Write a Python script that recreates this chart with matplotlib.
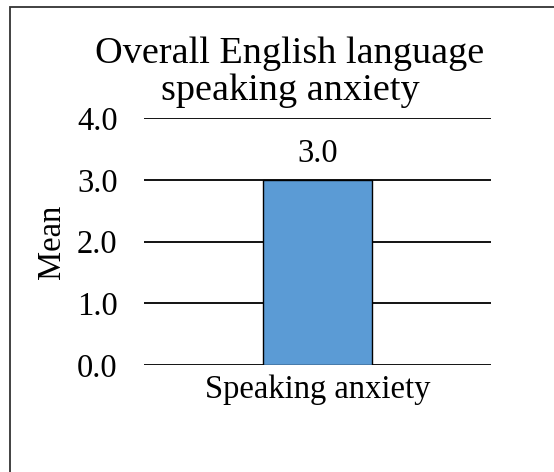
import matplotlib.pyplot as plt
from matplotlib.patches import Rectangle

categories = ["Speaking anxiety"]
means = [3.0]
yticks = [0.0, 1.0, 2.0, 3.0, 4.0]
title = "Overall English language\nspeaking anxiety"

plt.rcParams['font.family'] = ['Liberation Serif', 'DejaVu Serif']

fig = plt.figure(figsize=(5.54, 4.72), dpi=100)
ax = fig.add_axes([144 / 554, 1 - 365 / 472, (491 - 144) / 554, (365 - 118) / 472])

# chart area frame (cropped on the right and bottom)
fig.patches.append(Rectangle((10 / 554, -0.1), 1.2, 1 - 7 / 472 + 0.1,
                             transform=fig.transFigure, fill=False,
                             edgecolor='#333333', linewidth=1.3))

bars = ax.bar(categories, means, width=0.314, color='#5b9bd5',
              edgecolor='black', linewidth=1.0, zorder=3)
for b, v in zip(bars, means):
    ax.annotate(f"{v:.1f}", (b.get_x() + b.get_width() / 2, v),
                xytext=(0, 8), textcoords='offset points',
                ha='center', va='bottom', fontsize=23.5)

ax.set_xlim(-0.5, 0.5)
ax.set_ylim(0, 4)
ax.set_yticks(yticks)
ax.set_yticklabels([f"{t:.1f}" for t in yticks])
ax.yaxis.grid(True, color='black', linewidth=1.3, zorder=0)
ax.set_axisbelow(True)
for s in ax.spines.values():
    s.set_visible(False)
ax.tick_params(axis='both', length=0, labelsize=23.5)
ax.tick_params(axis='y', pad=19)
ax.tick_params(axis='x', pad=7)
ax.set_ylabel("Mean", fontsize=23.5, labelpad=7)

fig.text(290 / 554, 1 - 72 / 472, title, ha='center', va='center',
         fontsize=27.5, linespacing=1.08)

fig.savefig("out.png", dpi=100)
